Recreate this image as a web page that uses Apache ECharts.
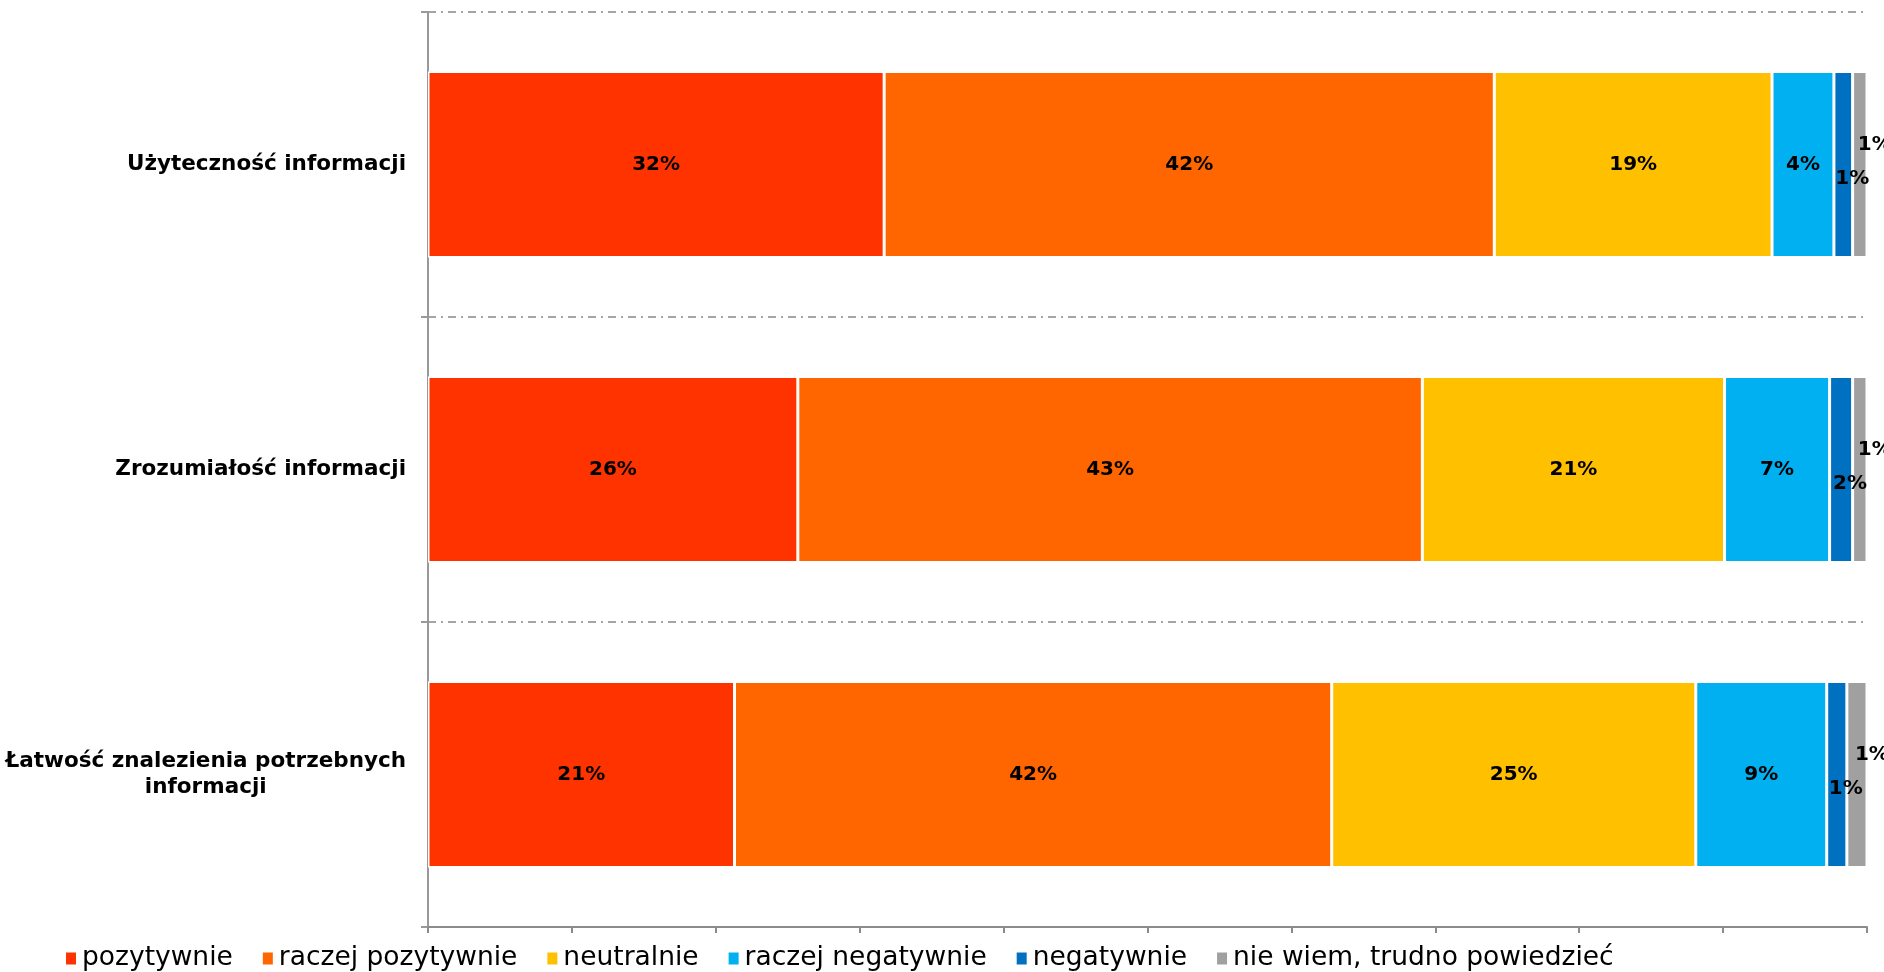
<!DOCTYPE html>
<html>
<head>
<meta charset="utf-8">
<script src="https://cdn.jsdelivr.net/npm/echarts@6/dist/echarts.min.js"></script>
<style>html,body{margin:0;padding:0;background:#fff;}#c{width:1884px;height:972px;}</style>
</head>
<body>
<div id="c"></div>
<script>
const categories = ['Użyteczność informacji', 'Zrozumiałość informacji', 'Łatwość znalezienia potrzebnych\ninformacji'];
const seriesNames = ['pozytywnie', 'raczej pozytywnie', 'neutralnie', 'raczej negatywnie', 'negatywnie', 'nie wiem, trudno powiedzieć'];
const pozytywnie = [31.7, 25.7, 21.3];
const raczejPozytywnie = [42.4, 43.4, 41.5];
const neutralnie = [19.3, 21.0, 25.3];
const raczejNegatywnie = [4.3, 7.3, 9.1];
const negatywnie = [1.3, 1.6, 1.4];
const nieWiem = [1.0, 1.0, 1.4];
const colors = ['#FF3300', '#FF6600', '#FFC000', '#00B0F0', '#0070C0', '#A0A0A0'];
const allData = [pozytywnie, raczejPozytywnie, neutralnie, raczejNegatywnie, negatywnie, nieWiem];
const labelShift = [[0,0],[0,0],[0,0],[0,0],[9,14],[15,-20]];

const chart = echarts.init(document.getElementById('c'));
const series = seriesNames.map((n, i) => ({
  name: n,
  type: 'bar',
  stack: 'total',
  barWidth: '61%',
  data: allData[i],
  itemStyle: { color: colors[i], borderColor: '#fff', borderWidth: 1.5 },
  label: {
    show: true,
    position: 'inside',
    formatter: p => Math.round(p.value) + '%',
    color: '#000',
    fontFamily: 'DejaVu Sans',
    fontWeight: 'bold',
    fontSize: 20
  },
  labelLayout: { hideOverlap: false, dx: labelShift[i][0], dy: labelShift[i][1] },
  emphasis: { disabled: true }
}));

chart.setOption({
  animation: false,
  backgroundColor: '#fff',
  grid: { left: 428, right: 17, top: 12, bottom: 45, containLabel: false },
  legend: {
    left: 64,
    top: 945,
    padding: 0,
    icon: 'rect',
    itemWidth: 12,
    itemHeight: 14,
    itemGap: 28,
    textStyle: { fontFamily: 'DejaVu Sans', fontSize: 26.5, color: '#000' },
    data: seriesNames
  },
  xAxis: {
    type: 'value',
    min: 0, max: 100, interval: 10,
    axisLine: { show: true, lineStyle: { color: '#8c8c8c', width: 2 } },
    axisTick: { show: true, length: 6, lineStyle: { color: '#8c8c8c', width: 2 } },
    axisLabel: { show: false },
    splitLine: { show: false }
  },
  yAxis: {
    type: 'category',
    inverse: true,
    data: categories,
    axisLine: { show: true, lineStyle: { color: '#999', width: 2 } },
    axisTick: { show: true, length: 7, lineStyle: { color: '#999', width: 2 } },
    axisLabel: {
      margin: 22,
      color: '#000',
      formatter: v => v.split('\n').map(l => '{c|' + l + '}').join('\n'),
      rich: { c: { align: 'center', fontFamily: 'DejaVu Sans', fontWeight: 'bold', fontSize: 21.5, color: '#000', lineHeight: 26 } }
    },
    splitLine: { show: true, lineStyle: { color: '#888', width: 1.5, type: [8, 5, 2, 5] } }
  },
  series: series
});
</script>
</body>
</html>
